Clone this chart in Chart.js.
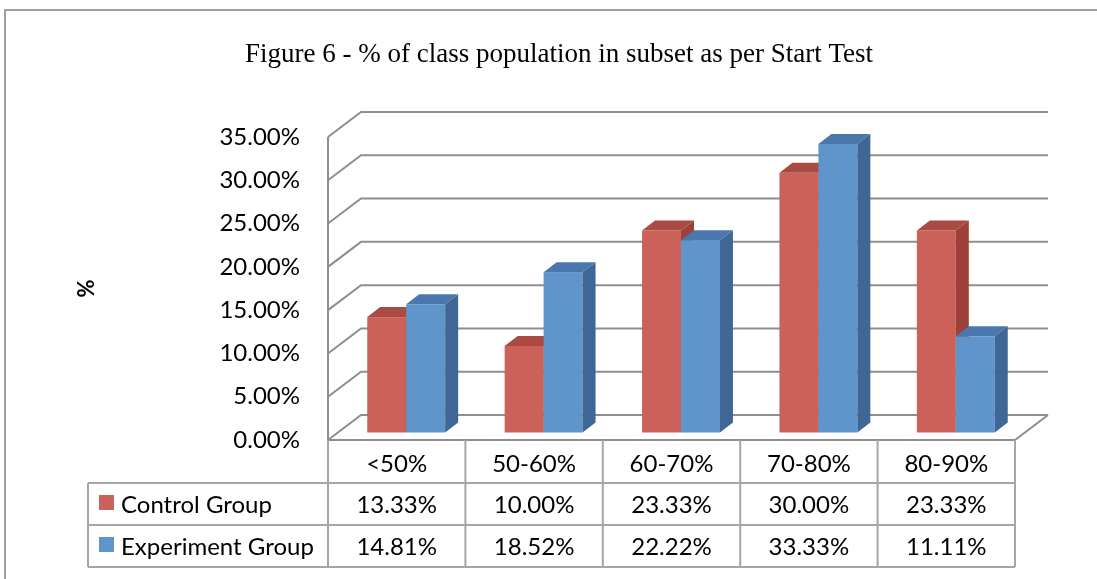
<!DOCTYPE html>
<html>
<head>
<meta charset="utf-8">
<script src="https://cdn.jsdelivr.net/npm/chart.js@4.4.1/dist/chart.umd.min.js"></script>
<style>
  html, body { margin: 0; padding: 0; background: #fff; }
  canvas { display: block; }
</style>
</head>
<body>
<canvas id="chart" width="1097" height="579"></canvas>
<script>
// chart data
const categories = ['<50%', '50-60%', '60-70%', '70-80%', '80-90%'];
const seriesNames = ['Control Group', 'Experiment Group'];
const controlGroup = [13.33, 10.00, 23.33, 30.00, 23.33];
const experimentGroup = [14.81, 18.52, 22.22, 33.33, 11.11];
const yMax = 35;
const yStep = 5;
const chartTitle = 'Figure 6 - % of class population in subset as per Start Test';

// colours for the faked 3D faces
const FACES = [
  { front: '#cb6159', top: '#a94a43', side: '#9d403a' },
  { front: '#5f95ca', top: '#4a78ad', side: '#3e6796' }
];
const GRID = '#8e8e8e';
const TABLE = '#a6a6a6';
const WALL_DX = 33, WALL_DY = -25;   // depth of the back wall
const BAR_OX = 9.5, BAR_OY = -7.5;   // bars sit a little behind the front edge
const BAR_DX = 13, BAR_DY = -10;     // bar depth
const BODY_FONT = 'Lato, "Open Sans", sans-serif';

const fmt = v => v.toFixed(2) + '%';

const frame3d = {
  id: 'frame3d',
  beforeDraw(chart) {
    const ctx = chart.ctx;
    ctx.save();
    ctx.fillStyle = '#fff';
    ctx.fillRect(0, 0, chart.width, chart.height);
    ctx.strokeStyle = '#a0a0a0';
    ctx.lineWidth = 2;
    ctx.beginPath();
    ctx.moveTo(5, chart.height + 2);
    ctx.lineTo(5, 10);
    ctx.lineTo(chart.width + 2, 10);
    ctx.stroke();
    // title (Excel centres it on the whole chart, not the plot box)
    ctx.fillStyle = '#000';
    ctx.font = '27px "Liberation Serif", "Times New Roman", serif';
    ctx.textAlign = 'center';
    ctx.textBaseline = 'middle';
    ctx.fillText(chartTitle, 559, 55);
    ctx.restore();
  },
  beforeDatasetsDraw(chart) {
    const ctx = chart.ctx;
    const y = chart.scales.y;
    const { left, right, bottom } = chart.chartArea;
    ctx.save();
    ctx.strokeStyle = GRID;
    ctx.lineWidth = 2;
    ctx.beginPath();
    y.ticks.forEach(t => {
      const fy = y.getPixelForValue(t.value);
      ctx.moveTo(left, fy);
      ctx.lineTo(left + WALL_DX, fy + WALL_DY);
      ctx.lineTo(right + WALL_DX, fy + WALL_DY);
    });
    // left wall front edge
    ctx.moveTo(left, y.getPixelForValue(yMax));
    ctx.lineTo(left, bottom);
    // floor front edge and right diagonal
    ctx.lineTo(right, bottom);
    ctx.lineTo(right + WALL_DX, bottom + WALL_DY);
    ctx.stroke();
    ctx.restore();
  },
  beforeDatasetDraw() {
    return false;
  },
  afterDatasetsDraw(chart) {
    const ctx = chart.ctx;
    ctx.save();
    const metas = [chart.getDatasetMeta(0), chart.getDatasetMeta(1)];
    categories.forEach((c, j) => {
      metas.forEach((meta, i) => {
        const el = meta.data[j];
        const f = FACES[i];
        const w = el.width;
        const x0 = el.x - w / 2 + BAR_OX, x1 = el.x + w / 2 + BAR_OX;
        const top = el.y + BAR_OY, bot = el.base + BAR_OY;
        ctx.fillStyle = f.front;
        ctx.fillRect(x0, top, w, bot - top);
        ctx.fillStyle = f.top;
        ctx.beginPath();
        ctx.moveTo(x0, top);
        ctx.lineTo(x0 + BAR_DX, top + BAR_DY);
        ctx.lineTo(x1 + BAR_DX, top + BAR_DY);
        ctx.lineTo(x1, top);
        ctx.closePath();
        ctx.fill();
        ctx.fillStyle = f.side;
        ctx.beginPath();
        ctx.moveTo(x1, top);
        ctx.lineTo(x1 + BAR_DX, top + BAR_DY);
        ctx.lineTo(x1 + BAR_DX, bot + BAR_DY);
        ctx.lineTo(x1, bot);
        ctx.closePath();
        ctx.fill();
      });
    });
    ctx.restore();
  },
  afterDraw(chart) {
    // data table under the plot
    const ctx = chart.ctx;
    const x = chart.scales.x;
    const { left, right, bottom } = chart.chartArea;
    const colW = (right - left) / categories.length;
    const rowH = [43, 42, 42];
    const r0 = bottom, r1 = r0 + rowH[0], r2 = r1 + rowH[1], r3 = r2 + rowH[2];
    const legendLeft = 88;
    ctx.save();
    ctx.strokeStyle = TABLE;
    ctx.lineWidth = 2;
    ctx.beginPath();
    [r1, r2, r3].forEach(ry => { ctx.moveTo(legendLeft, ry); ctx.lineTo(right, ry); });
    for (let k = 0; k <= categories.length; k++) {
      const cx = left + k * colW;
      ctx.moveTo(cx, r0);
      ctx.lineTo(cx, r3);
    }
    ctx.moveTo(legendLeft, r1);
    ctx.lineTo(legendLeft, r3);
    ctx.stroke();

    ctx.fillStyle = '#000';
    ctx.font = '24px ' + BODY_FONT;
    ctx.textAlign = 'center';
    ctx.textBaseline = 'middle';
    const rows = [controlGroup, experimentGroup];
    categories.forEach((c, j) => {
      const cx = x.getPixelForValue(j);
      ctx.fillText(c, cx, (r0 + r1) / 2 + 3);
      ctx.fillText(fmt(rows[0][j]), cx, (r1 + r2) / 2 + 1);
      ctx.fillText(fmt(rows[1][j]), cx, (r2 + r3) / 2 + 1);
    });
    ctx.textAlign = 'left';
    seriesNames.forEach((name, i) => {
      const ry = i === 0 ? (r1 + r2) / 2 : (r2 + r3) / 2;
      ctx.fillStyle = FACES[i].front;
      ctx.fillRect(99, ry - 9, 15, 15);
      ctx.fillStyle = '#000';
      ctx.fillText(name, 121, ry + 1);
    });
    ctx.restore();
  }
};

new Chart(document.getElementById('chart'), {
  type: 'bar',
  data: {
    labels: categories,
    datasets: [
      { label: seriesNames[0], data: controlGroup, backgroundColor: FACES[0].front },
      { label: seriesNames[1], data: experimentGroup, backgroundColor: FACES[1].front }
    ]
  },
  options: {
    responsive: false,
    animation: false,
    categoryPercentage: 0.567,
    barPercentage: 1.0,
    layout: { padding: { left: 70, right: 82, top: 137, bottom: 139 } },
    plugins: {
      legend: { display: false },
      tooltip: { enabled: false },
      title: { display: false }
    },
    scales: {
      x: { display: false },
      y: {
        min: 0,
        max: yMax,
        grid: { display: false, drawTicks: false },
        border: { display: false },
        ticks: {
          stepSize: yStep,
          padding: 28,
          color: '#000',
          font: { family: BODY_FONT, size: 24 },
          callback: v => fmt(v)
        },
        title: {
          display: true,
          text: '%',
          color: '#000',
          font: { family: BODY_FONT, size: 22, weight: 'bold' }
        },
        afterFit(s) { s.width = 258; }
      }
    }
  },
  plugins: [frame3d]
});
</script>
</body>
</html>
